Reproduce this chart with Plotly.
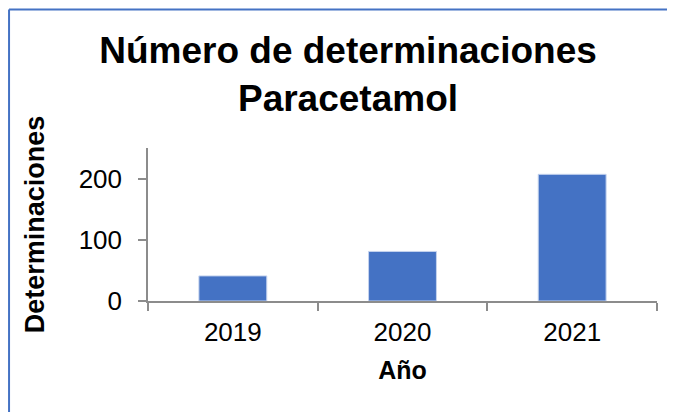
import plotly.graph_objects as go

years = ["2019", "2020", "2021"]
determinaciones = [41, 81, 207]

title_lines = ["Número de determinaciones", "Paracetamol"]
x_title = "Año"
y_title = "Determinaciones"

FONT = "Arial, Liberation Sans, sans-serif"
AXIS_COLOR = "#8c8c8c"
BAR_COLOR = "#4472C4"

fig = go.Figure(
    go.Bar(
        x=years,
        y=determinaciones,
        marker=dict(color=BAR_COLOR, line=dict(color="#c5d3ee", width=1)),
    )
)

fig.update_layout(
    width=675,
    height=412,
    margin=dict(l=140, r=26, t=140, b=119),
    paper_bgcolor="white",
    plot_bgcolor="white",
    bargap=0.6,
    showlegend=False,
    font=dict(family=FONT, color="black"),
    title=dict(
        text="<br>".join("<b>" + t + "</b>" for t in title_lines),
        font=dict(family=FONT, size=37, color="black"),
        x=340 / 675,
        xanchor="center",
        xref="container",
        y=0.867,
        yanchor="top",
        yref="container",
    ),
    shapes=[
        dict(type="line", xref="paper", yref="paper",
             x0=-0.273, x1=2.0, y0=1.905, y1=1.905,
             line=dict(color="#4472C4", width=2)),
        dict(type="line", xref="paper", yref="paper",
             x0=-0.273, x1=-0.273, y0=1.905, y1=-2.0,
             line=dict(color="#4472C4", width=2)),
    ],
)

fig.update_xaxes(
    type="category",
    showline=True,
    linecolor=AXIS_COLOR,
    linewidth=1.5,
    ticks="outside",
    tickson="boundaries",
    ticklen=8,
    tickcolor=AXIS_COLOR,
    tickwidth=1.5,
    showgrid=False,
    ticklabelstandoff=7,
    tickfont=dict(family=FONT, size=26, color="black"),
    title=dict(text="<b>" + x_title + "</b>", font=dict(family=FONT, size=25, color="black"), standoff=16),
)

fig.update_yaxes(
    range=[0, 250],
    dtick=100,
    showline=True,
    linecolor=AXIS_COLOR,
    linewidth=1.5,
    ticks="outside",
    ticklen=8,
    tickcolor=AXIS_COLOR,
    tickwidth=1.5,
    showgrid=False,
    zeroline=False,
    ticklabelstandoff=11,
    tickfont=dict(family=FONT, size=26, color="black"),
    title=dict(text="<b>" + y_title + "</b>", font=dict(family=FONT, size=27, color="black"), standoff=26),
)

fig.write_html("out.html")
